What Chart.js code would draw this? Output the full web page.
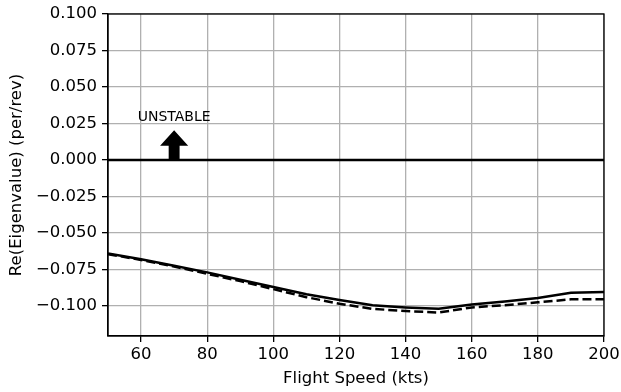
<!DOCTYPE html>
<html>
<head>
<meta charset="utf-8">
<script src="https://cdn.jsdelivr.net/npm/chart.js@4/dist/chart.umd.min.js"></script>
<style>
html,body{margin:0;padding:0;background:#fff;}
#wrap{width:621px;height:392px;}
</style>
</head>
<body>
<div id="wrap"><canvas id="c" width="621" height="392"></canvas></div>
<script>
const speeds = [50, 60, 70, 80, 90, 100, 110, 120, 130, 140, 150, 160, 170, 180, 190, 200];
const solidSeries = [-0.064, -0.068, -0.0725, -0.077, -0.082, -0.087, -0.092, -0.096, -0.0995, -0.101, -0.102, -0.099, -0.097, -0.0945, -0.091, -0.0905];
const dashedSeries = [-0.0645, -0.0685, -0.073, -0.078, -0.083, -0.0885, -0.094, -0.0985, -0.102, -0.1035, -0.1045, -0.101, -0.0995, -0.0975, -0.0955, -0.0955];
const xTicks = [60, 80, 100, 120, 140, 160, 180, 200];
const yTicks = [-0.1, -0.075, -0.05, -0.025, 0, 0.025, 0.05, 0.075, 0.1];
const zeroLine = [[50, 0], [200, 0]];
const arrowX = 70, arrowBase = 0, arrowTip = 0.0203, arrowHeadLen = 0.0106;
const arrowShaftW = 3.3, arrowHeadW = 8.5;
const labelText = 'UNSTABLE', labelX = 70, labelY = 0.0265;

const FONT = "'DejaVu Sans', sans-serif";

const overlay = {
  id: 'overlay',
  afterDatasetsDraw(chart) {
    const {ctx, scales: {x, y}} = chart;
    ctx.save();
    const cx = x.getPixelForValue(arrowX);
    const sw = x.getPixelForValue(arrowX + arrowShaftW / 2) - cx;
    const hw = x.getPixelForValue(arrowX + arrowHeadW / 2) - cx;
    const yb = y.getPixelForValue(arrowBase);
    const yt = y.getPixelForValue(arrowTip);
    const yh = y.getPixelForValue(arrowTip - arrowHeadLen);
    ctx.beginPath();
    ctx.moveTo(cx - sw, yb);
    ctx.lineTo(cx - sw, yh);
    ctx.lineTo(cx - hw, yh);
    ctx.lineTo(cx, yt);
    ctx.lineTo(cx + hw, yh);
    ctx.lineTo(cx + sw, yh);
    ctx.lineTo(cx + sw, yb);
    ctx.closePath();
    ctx.fillStyle = '#000';
    ctx.fill();
    ctx.font = '14px ' + FONT;
    ctx.textAlign = 'center';
    ctx.textBaseline = 'alphabetic';
    ctx.fillText(labelText, x.getPixelForValue(labelX), y.getPixelForValue(labelY));
    ctx.restore();
  },
  afterDraw(chart) {
    const {ctx, chartArea: a} = chart;
    ctx.save();
    ctx.strokeStyle = '#000';
    ctx.lineWidth = 1.3;
    ctx.strokeRect(a.left, a.top, a.right - a.left, a.bottom - a.top);
    ctx.restore();
  }
};

new Chart(document.getElementById('c'), {
  type: 'line',
  data: {
    datasets: [
      {
        data: zeroLine.map(p => ({x: p[0], y: p[1]})),
        borderColor: '#000', borderWidth: 2.5, pointRadius: 0, tension: 0
      },
      {
        data: speeds.map((s, i) => ({x: s, y: solidSeries[i]})),
        borderColor: '#000', borderWidth: 2.5, pointRadius: 0, tension: 0
      },
      {
        data: speeds.map((s, i) => ({x: s, y: dashedSeries[i]})),
        borderColor: '#000', borderWidth: 2.5, borderDash: [9, 4], pointRadius: 0, tension: 0
      }
    ]
  },
  plugins: [overlay],
  options: {
    responsive: false,
    animation: false,
    devicePixelRatio: 1,
    layout: {padding: {top: 14, right: 17, left: 7, bottom: 0}},
    plugins: {legend: {display: false}, tooltip: {enabled: false}},
    scales: {
      x: {
        type: 'linear', min: 50, max: 200,
        afterBuildTicks: s => { s.ticks = xTicks.map(v => ({value: v})); },
        afterFit: s => { s.height = 56; s.paddingLeft = 0; s.paddingRight = 0; },
        grid: {color: '#b0b0b0', lineWidth: 1.3, drawTicks: true, tickLength: 6, tickColor: '#000'},
        border: {color: '#000', width: 1.3},
        ticks: {color: '#000', font: {family: FONT, size: 16.5}, padding: 3, maxRotation: 0,
                callback: v => String(v)},
        title: {display: true, text: 'Flight Speed (kts)', color: '#000',
                font: {family: FONT, size: 16.5}, padding: {top: 0, bottom: 3}}
      },
      y: {
        type: 'linear', min: -0.1206, max: 0.1,
        afterBuildTicks: s => { s.ticks = yTicks.map(v => ({value: v})); },
        afterFit: s => { s.width = 101; s.paddingTop = 0; s.paddingBottom = 0; },
        grid: {color: '#b0b0b0', lineWidth: 1.3, drawTicks: true, tickLength: 6, tickColor: '#000'},
        border: {color: '#000', width: 1.3},
        ticks: {color: '#000', font: {family: FONT, size: 16.5}, padding: 5,
                callback: v => v.toFixed(3).replace('-', '\u2212')},
        title: {display: true, text: 'Re(Eigenvalue) (per/rev)', color: '#000',
                font: {family: FONT, size: 16.5}, padding: {top: 0, bottom: 4}}
      }
    }
  }
});
</script>
</body>
</html>
